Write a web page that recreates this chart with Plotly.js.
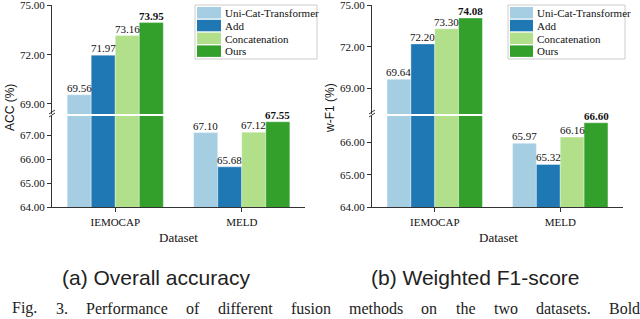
<!DOCTYPE html>
<html>
<head>
<meta charset="utf-8">
<script src="https://cdn.plot.ly/plotly-3.0.1.min.js"></script>
<style>html,body{margin:0;padding:0;background:#fff;}#chart{width:640px;height:319px;}</style>
</head>
<body>
<div id="chart"></div>
<script>
// ---- data ----
const categories = ['IEMOCAP', 'MELD'];
const seriesNames = ['Uni-Cat-Transformer', 'Add', 'Concatenation', 'Ours'];
const accUni = [69.56, 67.10];
const accAdd = [71.97, 65.68];
const accConcat = [73.16, 67.12];
const accOurs = [73.95, 67.55];
const f1Uni = [69.64, 65.97];
const f1Add = [72.20, 65.32];
const f1Concat = [73.30, 66.16];
const f1Ours = [74.08, 66.60];
const lowerTicks = {acc: [64, 65, 66, 67], f1: [64, 65, 66]};
const upperTicks = [69, 72, 75];

const colors = ['#a6cee3', '#1f78b4', '#b2df8a', '#33a02c'];
const W = 640, H = 319;
const px = x => x / W;
const py = y => 1 - y / H;
const SERIF = 'Liberation Serif, Times New Roman, serif';
const SANS = 'Liberation Sans, Arial, sans-serif';

const accSeries = [accUni, accAdd, accConcat, accOurs];
const f1Series = [f1Uni, f1Add, f1Concat, f1Ours];

const bargap = 0.24;
const barW = (1 - bargap) / 4;
const offsets = [0, 1, 2, 3].map(k => (k - 1.5) * barW);

const traces = [];
const annotations = [];
const shapes = [];

function addPanel(series, xa, yLow, yUp) {
  series.forEach((vals, k) => {
    [yLow, yUp].forEach(ya => {
      traces.push({
        type: 'bar', x: categories, y: vals, name: seriesNames[k],
        xaxis: xa, yaxis: ya, showlegend: false,
        marker: {color: colors[k], line: {color: 'rgba(255,255,255,0.6)', width: 0.6}},
        hoverinfo: 'skip'
      });
    });
    vals.forEach((v, i) => {
      const bold = k === 3;
      annotations.push({
        xref: xa, yref: i === 0 ? yUp : yLow, x: i + offsets[k], y: v,
        text: bold ? '<b>' + v.toFixed(2) + '</b>' : v.toFixed(2),
        showarrow: false, yanchor: 'bottom', xanchor: 'center', yshift: -1,
        font: {family: SERIF, size: 11, color: '#111'}
      });
    });
  });
}
addPanel(accSeries, 'x', 'y', 'y2');
addPanel(f1Series, 'x2', 'y3', 'y4');

// geometry
const left = {x0: 52, x1: 305};
const right = {x0: 372, x1: 623};
const lowDom = [py(207.3), py(116)];
const upDom = [py(114), py(5)];

const tickFont = {family: SERIF, size: 11, color: '#111'};
function yax(dom, range, ticks, anchor) {
  return {
    domain: dom, range: range, anchor: anchor, tickvals: ticks, tickformat: '.2f',
    showgrid: false, zeroline: false, showline: true, linecolor: '#333', linewidth: 1,
    ticks: 'outside', ticklen: 4, tickcolor: '#333', tickfont: tickFont, fixedrange: true,
    ticklabeloverflow: 'allow'
  };
}
function xax(dom, anchor) {
  return {
    domain: dom, anchor: anchor, range: [-0.5, 1.5], type: 'category',
    showgrid: false, zeroline: false, showline: true, linecolor: '#333', linewidth: 1,
    ticks: 'outside', ticklen: 4, tickcolor: '#333', tickfont: tickFont, fixedrange: true
  };
}

// break marks
[left.x0, right.x0].forEach(ax => {
  [0, 3].forEach(d => {
    shapes.push({type: 'line', xref: 'paper', yref: 'paper',
      x0: px(ax - 3), y0: py(117 - d), x1: px(ax + 3), y1: py(113 - d),
      line: {color: '#333', width: 1}});
  });
});

// custom legends
function legend(bx0, bx1, sx0, sx1, tx) {
  shapes.push({type: 'rect', xref: 'paper', yref: 'paper',
    x0: px(bx0), x1: px(bx1), y0: py(59), y1: py(5),
    line: {color: '#cccccc', width: 1}, fillcolor: '#ffffff'});
  seriesNames.forEach((n, k) => {
    const top = 7 + k * 12.8;
    shapes.push({type: 'rect', xref: 'paper', yref: 'paper',
      x0: px(sx0), x1: px(sx1), y0: py(top + 11.5), y1: py(top),
      line: {width: 0}, fillcolor: colors[k]});
    annotations.push({xref: 'paper', yref: 'paper', x: px(tx), y: py(top + 6),
      text: n, showarrow: false, xanchor: 'left', yanchor: 'middle',
      font: {family: SERIF, size: 11, color: '#111'}});
  });
}
legend(195, 317, 197, 221, 223);
legend(508, 625, 510, 533, 535);

// axis titles
function txt(x, y, text, font, extra) {
  annotations.push(Object.assign({xref: 'paper', yref: 'paper', x: px(x), y: py(y), text: text,
    showarrow: false, xanchor: 'center', yanchor: 'middle', font: font}, extra || {}));
}
txt(10, 108, 'ACC (%)', {family: SANS, size: 12, color: '#111'}, {textangle: -90});
txt(330, 108, 'w-F1 (%)', {family: SANS, size: 12, color: '#111'}, {textangle: -90});
txt(178, 237, 'Dataset', {family: SERIF, size: 13, color: '#111'});
txt(498, 237, 'Dataset', {family: SERIF, size: 13, color: '#111'});
txt(156, 277, '(a) Overall accuracy', {family: SANS, size: 21, color: '#222'});
txt(475, 277, '(b) Weighted F1-score', {family: SANS, size: 21, color: '#222'});

// figure caption line, justified across the width (word widths measured)
const captionWords = ['Fig.', '3.', 'Performance', 'of', 'different', 'fusion', 'methods', 'on', 'the', 'two', 'datasets.', 'Bold'];
const capSize = 16, capLeft = 10, capRight = 638;
const ctx = document.createElement('canvas').getContext('2d');
ctx.font = capSize + 'px "Liberation Serif"';
const widths = captionWords.map(w => ctx.measureText(w).width);
const totalW = widths.reduce((a, b) => a + b, 0);
const gapW = (capRight - capLeft - totalW) / (captionWords.length - 1);
let cx = capLeft;
captionWords.forEach((w, i) => {
  annotations.push({xref: 'paper', yref: 'paper', x: px(cx), y: 0, xanchor: 'left', yanchor: 'bottom',
    text: w, showarrow: false, font: {family: SERIF, size: capSize, color: '#222'}});
  cx += widths[i] + gapW;
});

const layout = {
  width: W, height: H, margin: {l: 0, r: 0, t: 0, b: 0},
  paper_bgcolor: '#fff', plot_bgcolor: 'rgba(0,0,0,0)',
  barmode: 'group', bargap: bargap, bargroupgap: 0, showlegend: false,
  xaxis: xax([px(left.x0), px(left.x1)], 'y'),
  xaxis2: xax([px(right.x0), px(right.x1)], 'y3'),
  yaxis: yax(lowDom, [64, 67.79], lowerTicks.acc, 'x'),
  yaxis2: yax(upDom, [68.39, 75.02], upperTicks, 'x'),
  yaxis3: yax(lowDom, [64, 66.81], lowerTicks.f1, 'x2'),
  yaxis4: yax(upDom, [67.12, 75.02], upperTicks, 'x2'),
  annotations: annotations, shapes: shapes
};
Plotly.newPlot('chart', traces, layout, {displayModeBar: false, staticPlot: true});
</script>
</body>
</html>
